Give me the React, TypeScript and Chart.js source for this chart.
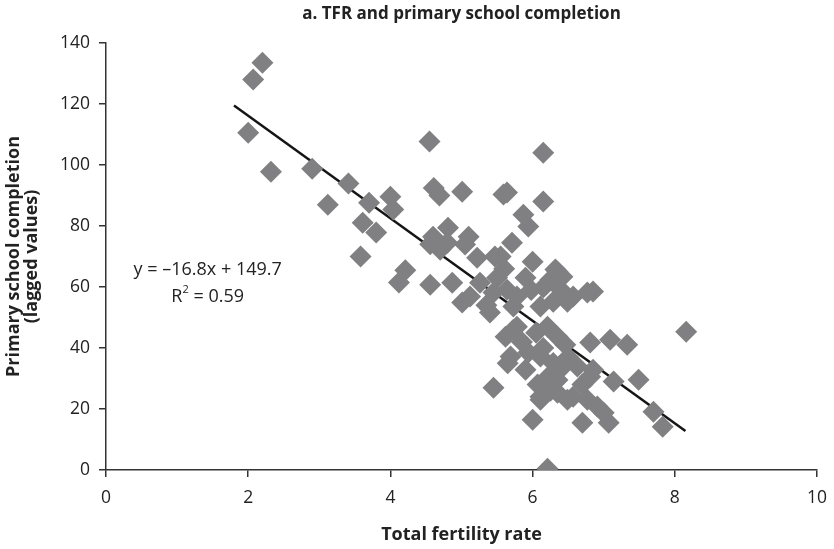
import React, { useEffect, useRef } from 'react';
import { Chart, registerables } from 'chart.js';

Chart.register(...registerables);

const FONT = "'Open Sans', 'Noto Sans', sans-serif";

const chartTitle = 'a. TFR and primary school completion';
const xAxisTitle = 'Total fertility rate';
const yAxisTitle = ['Primary school completion', '(lagged values)'];
const equationText = 'y = \u201316.8x + 149.7';
const r2Label = 'R';
const r2Sup = '2';
const r2Value = ' = 0.59';

// Total fertility rate (x)
const tfr = [
  2.2, 2.07, 2.0, 2.32, 2.9, 3.41, 3.12, 3.7, 4.0, 4.04, 3.61, 3.8, 3.58, 4.12, 4.21,
  4.55, 4.61, 4.69, 5.01, 6.15, 6.15, 5.59, 5.87, 5.94,
  4.81, 5.1, 4.6, 4.56, 4.7, 4.8, 5.05, 5.71, 5.22, 5.47, 5.55, 6.0, 6.32, 6.35, 6.25, 6.42,
  4.56, 4.87, 5.26, 5.01, 5.4, 5.64, 5.78, 6.15, 6.29, 6.57, 6.77, 6.85, 5.45, 5.12, 6.11, 6.49, 5.73,
  5.73, 5.62, 5.78, 6.21, 6.35, 6.46, 6.81, 7.09, 7.33, 5.69, 5.94, 6.11, 5.9, 6.29, 6.63, 6.43,
  6.85, 6.81, 6.22, 7.14, 7.49, 5.45, 6.07, 6.11, 6.35, 6.57, 6.49, 6.77, 6.91, 7.0, 7.07, 6.0,
  6.7, 7.7, 7.83, 8.16, 6.21, 6.11,
  5.5, 5.9, 5.6, 5.35, 5.98, 6.4, 6.05, 5.85, 6.15, 6.5, 6.7, 6.35, 5.65, 6.25, 5.64,
];

// Primary school completion, lagged (y)
const completion = [
  133.5, 128, 110.6, 97.8, 98.8, 93.9, 87, 87.6, 89.6, 85.4, 81.1, 77.9, 70, 61.5, 65.5,
  107.7, 92.5, 90, 91.2, 104, 88, 90.3, 83.7, 79.8,
  79.4, 76.5, 76.5, 74, 72.2, 74.5, 73.9, 74.5, 69.6, 70, 70, 68.3, 65.7, 65, 62.4, 63.4,
  60.7, 61.4, 61.4, 54.9, 51.6, 59.1, 56.9, 59.8, 55.2, 56.9, 58.2, 58.5, 58.2, 56.9, 53.6, 55.2, 53.6,
  46, 43.7, 47, 47, 43.7, 41.1, 41.8, 42.7, 41.1, 37.2, 38.5, 37.2, 32.9, 35.1, 33.9, 33.9,
  32.9, 30.6, 30.6, 29, 29.6, 27, 28, 24, 25.3, 24, 23, 23, 20.8, 18.8, 15.5, 16.5,
  15.5, 19.1, 14.2, 45.3, 0.4, 23,
  63, 63, 66, 54, 59, 59, 45, 42, 40, 37, 28, 29.5, 35, 26, 91,
];

// Linear trend line endpoints: y = -16.8x + 149.7
const trendX = [1.8, 8.15];
const trendY = [119.5, 12.8];

const xMin = 0;
const xMax = 10;
const xStep = 2;
const yMin = 0;
const yMax = 140;
const yStep = 20;

// Annotation anchor (data coordinates)
const eqX = 1.43;
const eqY1 = 65.7;
const eqY2 = 56.8;

const equationPlugin = {
  id: 'equationText',
  afterDatasetsDraw(chart: any) {
    const { ctx, scales } = chart;
    const xs = scales.x;
    const ys = scales.y;
    const cx = xs.getPixelForValue(eqX);
    ctx.save();
    ctx.fillStyle = '#222';
    ctx.textBaseline = 'middle';
    ctx.font = `18px ${FONT}`;
    ctx.textAlign = 'center';
    ctx.fillText(equationText, cx, ys.getPixelForValue(eqY1));
    // R² line
    const y2 = ys.getPixelForValue(eqY2);
    ctx.font = `18px ${FONT}`;
    const wR = ctx.measureText(r2Label).width;
    const wV = ctx.measureText(r2Value).width;
    ctx.font = `11px ${FONT}`;
    const wS = ctx.measureText(r2Sup).width;
    const total = wR + wS + wV;
    let left = cx - total / 2;
    ctx.textAlign = 'left';
    ctx.font = `18px ${FONT}`;
    ctx.fillText(r2Label, left, y2);
    left += wR;
    ctx.font = `11px ${FONT}`;
    ctx.fillText(r2Sup, left, y2 - 7);
    left += wS;
    ctx.font = `18px ${FONT}`;
    ctx.fillText(r2Value, left, y2);
    ctx.restore();
  },
};

export default function App() {
  const ref = useRef<HTMLCanvasElement | null>(null);

  useEffect(() => {
    document.body.style.margin = '0';
    const canvas = ref.current;
    if (!canvas) return;
    const points = tfr.map((x, i) => ({ x, y: completion[i] }));
    const trend = trendX.map((x, i) => ({ x, y: trendY[i] }));
    const chart = new Chart(canvas, {
      type: 'scatter',
      data: {
        datasets: [
          {
            label: 'Countries',
            data: points,
            pointStyle: 'rectRot',
            pointRadius: 11,
            pointHoverRadius: 11,
            backgroundColor: '#808083',
            borderWidth: 0,
            pointBorderWidth: 0,
            order: 0,
          },
          {
            type: 'line',
            label: 'Trend',
            data: trend,
            borderColor: '#151515',
            borderWidth: 2.5,
            pointRadius: 0,
            fill: false,
            order: 1,
          } as any,
        ],
      },
      options: {
        animation: false,
        responsive: false,
        maintainAspectRatio: false,
        layout: { padding: { left: 0, right: 17, top: 0, bottom: 0 } },
        plugins: {
          legend: { display: false },
          tooltip: { enabled: false },
          title: {
            display: true,
            text: chartTitle,
            fullSize: false,
            color: '#222',
            font: { size: 17, weight: 'bold', family: FONT, lineHeight: 1.2 },
            padding: { top: 4, bottom: 18.6 },
          },
        },
        scales: {
          x: {
            type: 'linear',
            min: xMin,
            max: xMax,
            ticks: {
              stepSize: xStep,
              color: '#222',
              font: { size: 17.5, family: FONT },
              padding: 11,
            },
            grid: {
              drawOnChartArea: false,
              drawTicks: true,
              tickLength: 7,
              color: '#333',
              lineWidth: 1.5,
            },
            border: { display: true, color: '#333', width: 1.5 },
            title: {
              display: true,
              text: xAxisTitle,
              color: '#222',
              font: { size: 18, weight: 'bold', family: FONT, lineHeight: 1.2 },
              padding: { top: 0, bottom: 3 },
            },
            afterFit: (s: any) => {
              s.height = 79;
              s.paddingLeft = 0;
              s.paddingRight = 10;
            },
          },
          y: {
            type: 'linear',
            min: yMin,
            max: yMax,
            ticks: {
              stepSize: yStep,
              color: '#222',
              font: { size: 17.5, family: FONT },
              padding: 9,
            },
            grid: {
              drawOnChartArea: false,
              drawTicks: true,
              tickLength: 7,
              color: '#333',
              lineWidth: 1.5,
            },
            border: { display: true, color: '#333', width: 1.5 },
            title: {
              display: true,
              text: yAxisTitle,
              color: '#222',
              font: { size: 18, weight: 'bold', family: FONT, lineHeight: 1.05 },
              padding: { top: 4, bottom: 0 },
            },
            afterFit: (s: any) => {
              s.width = 106;
            },
          },
        },
      } as any,
      plugins: [equationPlugin],
    });
    return () => chart.destroy();
  }, []);

  return (
    <div style={{ width: 834, height: 549 }}>
      <canvas ref={ref} width={834} height={549} style={{ display: 'block' }} />
    </div>
  );
}
